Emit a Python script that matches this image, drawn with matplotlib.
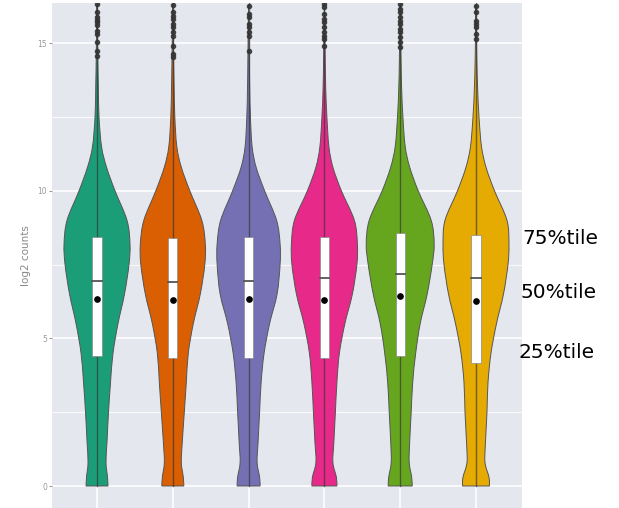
import numpy as np
import matplotlib.pyplot as plt
from matplotlib.path import Path
from matplotlib.patches import PathPatch

# six samples, Dark2 colours
colors = ['#1b9e77', '#d95f02', '#7570b3', '#e7298a', '#66a61e', '#e6ab02']

# violin outline: relative half-width at each log2 level
levels = [0, 0.3, 0.8, 1.5, 2.5, 3.5, 4.5, 5.5, 6.5, 7.5, 8.2, 9.0, 10.0,
          10.8, 11.5, 12.5, 13.5, 14.5, 15.5, 16.3]
dens_1 = [11, 10.5, 9, 10, 11.5, 13.5, 16, 21, 27.5, 32, 33, 30, 18, 9.5, 4.5, 2, 1.3, 0.8, 0.4, 0]
dens_2 = [11, 10.5, 8.5, 9.5, 11.5, 13.5, 15.5, 20.5, 27.5, 32, 32.5, 29, 17, 8.5, 4, 2, 1.3, 0.8, 0.4, 0]
dens_3 = [11.5, 11, 8.5, 9.5, 11, 12.5, 15.5, 21, 28.5, 31.5, 31.5, 28, 16, 7.5, 3.5, 1.8, 1.1, 0.7, 0.4, 0]
dens_4 = [12.5, 12, 8.5, 9.5, 11, 12.5, 15, 20.5, 28, 32.5, 33, 30, 17, 8.5, 4.5, 2.5, 1.3, 0.8, 0.4, 0]
dens_5 = [12, 11.5, 9, 9.5, 11, 12.5, 15.5, 20, 27, 32, 34, 31, 18, 9.5, 5, 2.7, 1.4, 0.8, 0.4, 0]
dens_6 = [13.5, 13, 9, 9.5, 11, 12, 15, 20.5, 27.5, 32, 33, 31, 18.5, 10, 5.5, 3, 1.6, 0.8, 0.4, 0]
densities = [dens_1, dens_2, dens_3, dens_4, dens_5, dens_6]

# box summaries
q1 = [4.42, 4.35, 4.35, 4.32, 4.42, 4.15]
median = [6.94, 6.90, 6.94, 7.04, 7.18, 7.04]
mean = [6.33, 6.29, 6.33, 6.29, 6.43, 6.26]
q3 = [8.44, 8.40, 8.43, 8.44, 8.57, 8.50]
whisk_lo = [0, 0, 0, 0, 0, 0]
whisk_hi = [16.5, 16.5, 16.5, 16.5, 16.5, 16.5]

outliers = [
    [16.33, 16.05, 15.9, 15.8, 15.7, 15.6, 15.4, 15.3, 15.05, 14.75, 14.55],
    [16.3, 16.05, 15.92, 15.82, 15.65, 15.54, 15.37, 15.24, 14.9, 14.63, 14.52],
    [16.26, 15.99, 15.88, 15.65, 15.54, 15.37, 15.24, 14.73],
    [16.33, 16.22, 15.99, 15.82, 15.71, 15.54, 15.37, 15.24, 15.14, 14.9],
    [16.33, 16.16, 16.05, 15.88, 15.75, 15.65, 15.48, 15.37, 15.2, 15.03, 14.86],
    [16.26, 16.05, 15.75, 15.65, 15.54, 15.31, 15.14],
]

labels = ['75%tile', '50%tile', '25%tile']
label_y = [239, 293, 352]
label_x = [522, 520, 518]

W = 0.435 / 33.0   # half-width scale


def smooth_path(pts):
    # catmull-rom through the points, as cubic bezier segments
    pts = np.asarray(pts, float)
    ext = np.vstack([pts[0], pts, pts[-1]])
    verts = [pts[0]]
    codes = []
    for i in range(1, len(ext) - 2):
        p0, p1, p2, p3 = ext[i - 1], ext[i], ext[i + 1], ext[i + 2]
        verts += [p1 + (p2 - p0) / 6, p2 - (p3 - p1) / 6, p2]
        codes += [Path.CURVE4] * 3
    return verts, codes


fig = plt.figure(figsize=(6.19, 5.08), dpi=100)
ax = fig.add_axes([52 / 619, 0, 470 / 619, 505 / 508])
ax.set_facecolor('#e5e7ee')

for i in range(6):
    y = np.array(levels)
    hw = np.array(densities[i]) * W
    right = np.column_stack([i + hw, y])
    left = np.column_stack([i - hw, y])[::-1]
    v1, c1 = smooth_path(right)
    v2, c2 = smooth_path(left)
    verts = [left[-1], right[0]] + v1[1:] + v2[1:] + [left[-1]]
    codes = [Path.MOVETO, Path.LINETO] + c1 + c2 + [Path.CLOSEPOLY]
    ax.add_patch(PathPatch(Path(verts, codes), facecolor=colors[i],
                           edgecolor='#555555', lw=0.7, zorder=3))
    ax.plot([i, i], [whisk_lo[i], whisk_hi[i]], color='#333333', alpha=0.65,
            lw=1.0, zorder=4)
    ax.bar(i, q3[i] - q1[i], bottom=q1[i], width=0.12, color='white',
           edgecolor='#8a8a8a', lw=0.5, zorder=5)
    ax.plot([i - 0.06, i + 0.06], [median[i], median[i]], color='#555555',
            lw=1.3, zorder=6)
    ax.plot(i, mean[i], 'o', color='black', ms=3.8, zorder=7)
    ax.plot([i] * len(outliers[i]), outliers[i], 'o', color='#333333',
            ms=3.0, alpha=0.85, zorder=4)

ax.set_xlim(-0.594, 5.607)
ax.set_ylim(-0.745, 16.36)
ax.set_yticks([0, 5, 10, 15])
ax.set_yticks([2.5, 7.5, 12.5], minor=True)
ax.set_xticks(range(6))
ax.set_xticklabels([])
ax.tick_params(axis='x', length=0)
ax.tick_params(axis='y', which='major', labelsize=5.5, colors='#999999',
               length=2.5, width=0.8, pad=1)
ax.tick_params(axis='y', which='minor', length=0)
ax.grid(True, which='major', color='white', lw=1.2, zorder=0)
ax.grid(True, which='minor', axis='y', color='white', lw=0.8, alpha=0.8, zorder=0)
ax.set_axisbelow(True)
for s in ax.spines.values():
    s.set_visible(False)
ax.set_ylabel('log2 counts', fontsize=7.5, color='#888888', labelpad=5)

for t, x, y in zip(labels, label_x, label_y):
    fig.text(x / 619, 1 - y / 508, t, fontsize=14.5, color='black',
             ha='left', va='center')

fig.savefig('out.png', dpi=100)
